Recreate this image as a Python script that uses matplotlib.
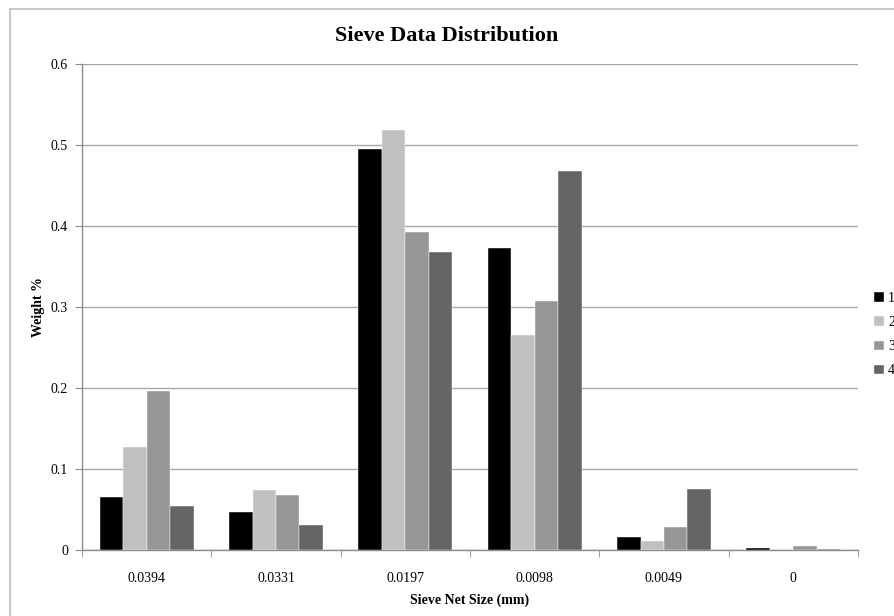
import numpy as np
import matplotlib.pyplot as plt
from matplotlib.patches import Rectangle

# --- data ---
sizes = ["0.0394", "0.0331", "0.0197", "0.0098", "0.0049", "0"]
series_names = ["1", "2", "3", "4"]
s1 = [0.065, 0.0465, 0.4955, 0.3725, 0.016, 0.003]
s2 = [0.1275, 0.074, 0.519, 0.265, 0.0115, 0.001]
s3 = [0.196, 0.0675, 0.392, 0.308, 0.029, 0.005]
s4 = [0.054, 0.031, 0.368, 0.468, 0.0755, 0.0017]
colors = ["#000000", "#c0c0c0", "#969696", "#646464"]

plt.rcParams['font.family'] = ['Liberation Serif', 'DejaVu Serif']

fig = plt.figure(figsize=(8.94, 6.16), dpi=100)
ax = fig.add_axes([0.0917, 0.1071, 0.8680, 0.7890])

# outer chart frame (cut off at right/bottom like the screenshot)
fig.patches.append(Rectangle((10 / 894, -0.1), 1.2, 1 - 9 / 616 + 0.1,
                             transform=fig.transFigure, fill=False,
                             edgecolor="#bdbdbd", linewidth=1.2))

x = np.arange(len(sizes))
w = 0.1815
for i, (vals, c, name) in enumerate(zip([s1, s2, s3, s4], colors, series_names)):
    ax.bar(x + (i - 1.5) * w, vals, width=w, color=c, label=name,
           edgecolor="#ffffff", linewidth=0.3, zorder=3)

ax.set_xlim(-0.5, len(sizes) - 0.5)
ax.set_ylim(0, 0.6)
ax.set_yticks(np.arange(0, 0.61, 0.1))
ax.set_yticklabels(["0", "0.1", "0.2", "0.3", "0.4", "0.5", "0.6"])
ax.set_xticks(x)
ax.set_xticklabels(sizes)
ax.set_xticks(np.arange(-0.5, len(sizes), 1), minor=True)
ax.tick_params(axis="x", which="major", length=0, pad=16, labelsize=10)
ax.tick_params(axis="x", which="minor", length=5, color="#8c8c8c", direction="out")
ax.tick_params(axis="y", length=5, color="#8c8c8c", labelsize=10, pad=5)

ax.yaxis.grid(True, color="#a6a6a6", linewidth=1.0, zorder=0)
ax.set_axisbelow(True)
for side in ["top", "right"]:
    ax.spines[side].set_visible(False)
for side in ["left", "bottom"]:
    ax.spines[side].set_color("#8c8c8c")
    ax.spines[side].set_linewidth(1.0)

ax.set_xlabel("Sieve Net Size (mm)", fontsize=10, fontweight="bold", labelpad=6)
ax.set_ylabel("Weight %", fontsize=10, fontweight="bold", labelpad=4)
fig.text(0.5, 1 - 36 / 616, "Sieve Data Distribution", ha="center", va="center",
         fontsize=16, fontweight="bold")

fig.legend(loc="upper left", bbox_to_anchor=(874 / 894, 1 - 292 / 616),
           frameon=False, fontsize=10, handlelength=0.7, handleheight=0.7,
           handletextpad=0.3, labelspacing=0.8, borderaxespad=0, borderpad=0)

fig.savefig("out.png", dpi=100)
